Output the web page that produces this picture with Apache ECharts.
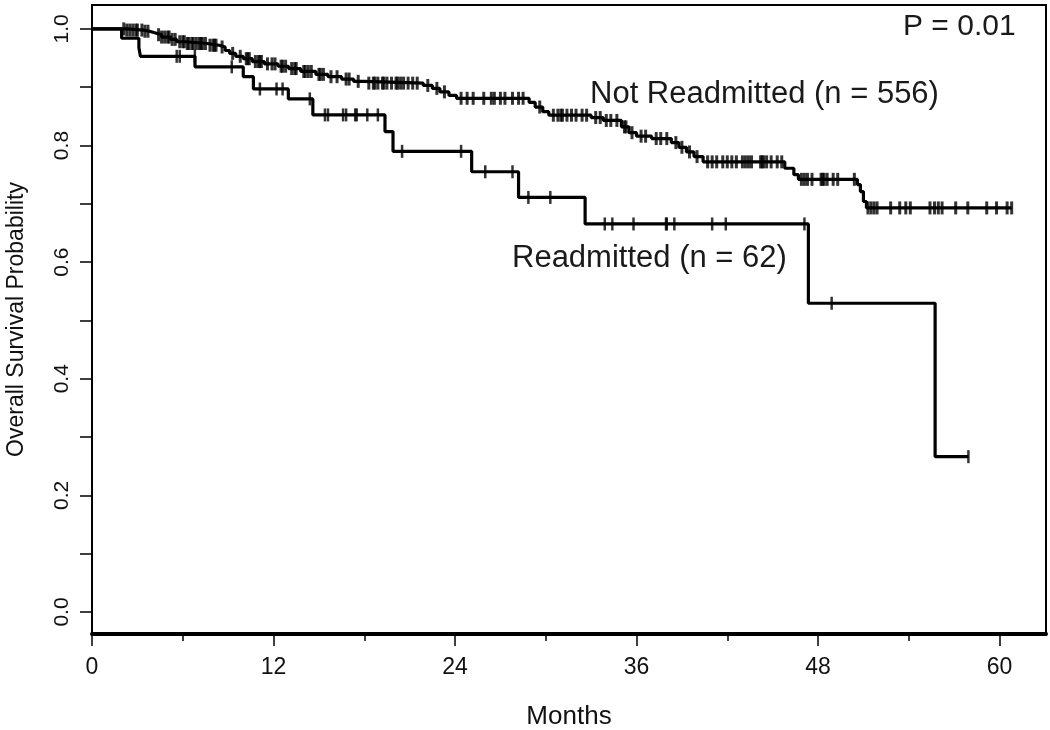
<!DOCTYPE html>
<html>
<head>
<meta charset="utf-8">
<script src="https://cdn.jsdelivr.net/npm/echarts@6/dist/echarts.min.js"></script>
<style>
html,body{margin:0;padding:0;background:#fff;}
#chart{width:1050px;height:730px;}
</style>
</head>
<body>
<div id="chart"></div>
<script>
// ---- Data ----
// Readmitted (n = 62): event times (months) and survival after each event
const readmittedTimes = [0, 1.96, 3.1, 3.2, 6.81, 10.0, 10.67, 12.98, 14.6, 19.37, 19.9, 25.1, 28.2, 32.6, 47.36, 55.74, 57.94];
const readmittedSurv  = [1.0, 0.984, 0.968, 0.953, 0.935, 0.918, 0.897, 0.880, 0.8525, 0.824, 0.790, 0.755, 0.711, 0.6655, 0.5295, 0.2664, 0.2664];
const readmittedCensor = [5.6, 5.8, 6.8, 9.24, 11.1, 12.2, 12.6, 14.4, 15.4, 15.6, 16.6, 16.8, 17.4, 17.5, 18.2, 18.9,
  20.5, 24.4, 26.0, 27.8, 28.85, 30.3, 33.9, 34.4, 35.8, 37.95, 38.0, 38.5, 41.0, 41.9, 47.1, 48.9, 57.94];

// Not Readmitted (n = 556)
const notReadTimes = [0, 2.3, 3.4, 3.8, 4.2, 4.6, 5.2, 5.6, 6.2, 7.6, 8.4, 8.8, 9.1, 9.5, 10.0, 10.6, 11.4, 12.3, 13.0, 13.8,
  14.8, 15.6, 16.5, 17.3, 18.0, 21.9, 22.5, 23.0, 23.6, 24.1, 28.9, 29.3, 29.8, 30.2, 33.0, 33.8, 35.0, 35.5, 36.0, 37.0,
  38.3, 38.8, 39.3, 39.8, 40.4, 45.8, 46.4, 46.7, 50.6, 50.8, 51.0, 51.2, 60.8];
const notReadSurv = [1.0, 0.998, 0.996, 0.993, 0.990, 0.986, 0.982, 0.978, 0.975, 0.972, 0.969, 0.963, 0.958, 0.953, 0.949, 0.944, 0.940, 0.936, 0.932, 0.927,
  0.922, 0.918, 0.914, 0.910, 0.907, 0.903, 0.898, 0.892, 0.886, 0.881, 0.874, 0.866, 0.858, 0.852, 0.848, 0.843, 0.832, 0.822, 0.816, 0.812,
  0.805, 0.797, 0.789, 0.781, 0.772, 0.761, 0.750, 0.742, 0.733, 0.721, 0.704, 0.693, 0.693];
const notReadCensor = [2.1, 2.3, 2.5, 2.7, 2.9, 3.0, 3.3, 3.5, 3.7,
  4.4, 4.6, 4.8, 5.0, 5.1, 5.3, 5.5, 5.8, 6.0, 6.1, 6.3, 6.4, 6.6, 6.7, 6.9, 7.1, 7.2, 7.3, 7.5, 7.8, 8.0, 8.1, 8.2,
  8.6, 9.3, 9.8, 10.2, 10.3, 10.4, 10.8, 11.0, 11.1, 11.2, 11.6, 11.9,
  12.1, 12.5, 12.6, 12.8, 13.2, 13.4, 13.5, 14.0, 14.1, 14.3, 14.5, 15.0, 15.1, 15.3, 15.8,
  16.2, 16.8, 17.0, 17.6, 18.3, 18.6, 18.7, 18.9, 19.2, 19.3, 19.5, 19.8, 20.1, 20.2, 20.4, 20.6, 20.9, 21.2, 21.5,
  22.2, 22.8, 23.3,
  24.4, 24.8, 25.2, 25.9, 26.4, 26.6, 27.0, 27.3, 27.8, 28.2, 28.5,
  29.6, 30.5, 30.8, 31.0, 31.1, 31.4, 31.7, 32.0, 32.4, 32.7,
  33.3, 33.6, 34.0, 34.3, 34.7, 35.2, 35.3, 35.7,
  36.3, 36.6, 37.3, 37.6, 38.0, 38.6, 39.0, 39.5, 40.0,
  40.7, 41.0, 41.3, 41.7, 42.0, 42.3, 42.6, 43.0, 43.2, 43.4, 43.6, 44.2, 44.3, 44.4, 44.6, 44.9, 45.3, 45.6,
  46.9, 47.1, 47.3, 47.6, 48.2, 48.3, 48.4, 48.6, 49.0, 49.3, 50.4,
  51.3, 51.5, 51.7, 51.9, 52.8, 53.4, 53.8, 54.1, 55.4, 55.7, 55.95, 56.2, 57.1, 57.9, 59.15, 59.8, 60.5, 60.8];

// Axis ticks
const xTicks = [0, 12, 24, 36, 48, 60];
const xMinorTicks = [6, 18, 30, 42, 54];
const yTicks = [0.0, 0.2, 0.4, 0.6, 0.8, 1.0];
const yMinorTicks = [0.0, 0.1, 0.2, 0.3, 0.4, 0.5, 0.6, 0.7, 0.8, 0.9, 1.0];

// Texts
const pValueText = 'P = 0.01';
const notReadLabel = 'Not Readmitted (n = 556)';
const readLabel = 'Readmitted (n = 62)';
const xName = 'Months';
const yName = 'Overall Survival Probability';

// ---- Helpers ----
function pairs(ts, ss) { return ts.map((t, i) => [t, ss[i]]); }
function survAt(ts, ss, t) {
  let v = ss[0];
  for (let i = 0; i < ts.length; i++) { if (ts[i] <= t) v = ss[i]; else break; }
  return v;
}
function censorPts(ts, ss, cs) { return cs.map(c => [c, survAt(ts, ss, c)]); }

const sans = "'Liberation Sans', Arial, sans-serif";

const chart = echarts.init(document.getElementById('chart'), null, {renderer: 'canvas'});
const option = {
  animation: false,
  backgroundColor: '#fff',
  grid: {left: 92, right: 4, top: 5, bottom: 96, show: true, borderColor: '#000', borderWidth: 2, outerBoundsMode: 'none'},
  xAxis: [{
    type: 'value', min: 0, max: 63.07, position: 'bottom',
    axisLine: {show: true, onZero: false, lineStyle: {color: '#000', width: 4}},
    axisTick: {show: true, length: 12, customValues: xTicks, lineStyle: {color: '#000', width: 1.5}},
    axisLabel: {customValues: xTicks, margin: 22, fontFamily: sans, fontSize: 23, color: '#111'},
    splitLine: {show: false},
    name: xName, nameLocation: 'middle', nameGap: 70,
    nameTextStyle: {fontFamily: sans, fontSize: 26, color: '#111'}
  }, {
    type: 'value', min: 0, max: 63.07, position: 'bottom',
    axisLine: {show: false, onZero: false},
    axisTick: {show: true, length: 7, customValues: xMinorTicks, lineStyle: {color: '#000', width: 1.5}},
    axisLabel: {show: false},
    splitLine: {show: false}
  }],
  yAxis: {
    type: 'value', min: -0.0377, max: 1.041,
    axisLine: {show: true, onZero: false, lineStyle: {color: '#000', width: 2}},
    axisTick: {show: true, length: 12, customValues: yMinorTicks, lineStyle: {color: '#000', width: 1.5}},
    axisLabel: {customValues: yTicks, rotate: 90, margin: 19, fontFamily: sans, fontSize: 21, color: '#111',
      formatter: v => Number(v).toFixed(1)},
    splitLine: {show: false},
    name: yName, nameLocation: 'middle', nameGap: 64, nameRotate: 90,
    nameTextStyle: {fontFamily: sans, fontSize: 23, color: '#111'}
  },
  graphic: [
    {type: 'text', left: 903, top: 12, style: {text: pValueText, font: "30px " + sans, fill: '#1a1a1a'}},
    {type: 'text', left: 590, top: 79, style: {text: notReadLabel, font: "31px " + sans, fill: '#1a1a1a'}},
    {type: 'text', left: 512, top: 243, style: {text: readLabel, font: "31px " + sans, fill: '#1a1a1a'}}
  ],
  series: [
    {type: 'line', name: 'Not Readmitted', data: pairs(notReadTimes, notReadSurv), step: 'end', showSymbol: false, symbol: 'none',
      lineStyle: {color: '#000', width: 3.2}, z: 3},
    {type: 'scatter', name: 'Not Readmitted censored', data: censorPts(notReadTimes, notReadSurv, notReadCensor),
      symbol: 'rect', symbolSize: [3, 13], itemStyle: {color: '#000'}, z: 4},
    {type: 'line', name: 'Readmitted', data: pairs(readmittedTimes, readmittedSurv), step: 'end', showSymbol: false, symbol: 'none',
      lineStyle: {color: '#000', width: 3.2}, z: 3},
    {type: 'scatter', name: 'Readmitted censored', data: censorPts(readmittedTimes, readmittedSurv, readmittedCensor),
      symbol: 'rect', symbolSize: [2.5, 13], itemStyle: {color: '#000'}, z: 4}
  ]
};
chart.setOption(option);
</script>
</body>
</html>
